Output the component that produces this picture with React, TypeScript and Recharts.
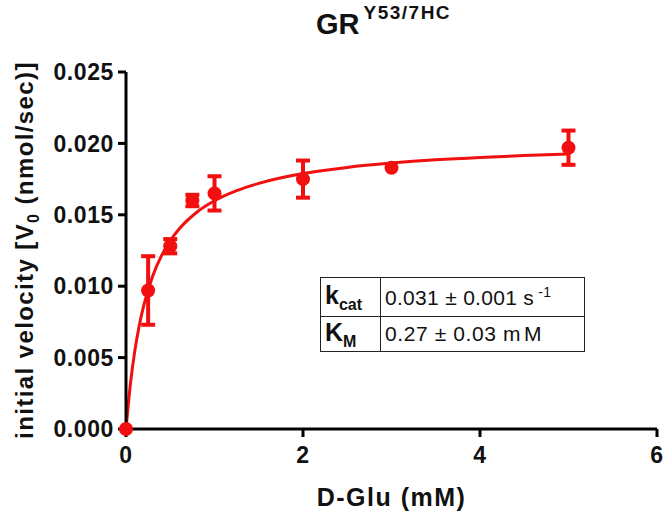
import React from "react";
import {
  ComposedChart,
  Line,
  Scatter,
  ErrorBar,
  XAxis,
  YAxis,
  Customized,
} from "recharts";

// measured substrate concentrations (mM) and velocities
const conc = [0, 0.25, 0.5, 0.75, 1, 2, 3, 5];
const velocity = [0, 0.0097, 0.0128, 0.016, 0.0165, 0.0175, 0.0183, 0.0197];
const velocityErr = [0, 0.0024, 0.0005, 0.0004, 0.0012, 0.0013, 0, 0.0012];

// fitted curve
const fitX = [0, 0.05, 0.1, 0.15, 0.2, 0.3, 0.4, 0.5, 0.6, 0.8, 1, 1.25, 1.5, 2, 2.5, 3, 3.5, 4, 4.5, 5];
const fitY = [
  0, 0.00317, 0.00549, 0.00725, 0.00864, 0.01068, 0.01212, 0.01318, 0.014, 0.01518,
  0.01598, 0.01669, 0.0172, 0.01789, 0.01832, 0.01862, 0.01885, 0.01902, 0.01915, 0.01926,
];

const xTicks = [0, 2, 4, 6];
const yTicks = [0, 0.005, 0.01, 0.015, 0.02, 0.025];

const points = conc.map((x, i) => ({ x, y: velocity[i], err: velocityErr[i] }));
const fit = fitX.map((x, i) => ({ x, fit: fitY[i] }));

const RED = "#f20f0f";
const FONT = "'Liberation Sans', Arial, sans-serif";
const tickStyle = { fill: "#111", fontSize: 23, fontWeight: "bold", fontFamily: FONT, letterSpacing: 0.6 };

const Dot = (props: any) => <circle cx={props.cx} cy={props.cy} r={7} fill={RED} />;

const Title = () => (
  <text x={316} y={34} fontFamily={FONT} fontWeight="bold" fill="#111">
    <tspan fontSize={29}>GR</tspan>
    <tspan fontSize={19} dy={-15} dx={4} letterSpacing={1.5}>Y53/7HC</tspan>
  </text>
);

const YLabel = () => (
  <text
    transform="translate(33,250) rotate(-90)"
    textAnchor="middle"
    fontFamily={FONT}
    fontWeight="bold"
    fontSize={24}
    letterSpacing={1.4}
    fill="#111"
  >
    initial velocity [V
    <tspan fontSize={16} dy={6}>0</tspan>
    <tspan dy={-6}> (nmol/sec)]</tspan>
  </text>
);

export default function App() {
  return (
    <div style={{ position: "absolute", left: 0, top: 0, width: 666, height: 516, background: "#fff" }}>
      <ComposedChart
        width={666}
        height={516}
        margin={{ top: 72, right: 9, bottom: 0, left: 0 }}
      >
        <XAxis
          type="number"
          dataKey="x"
          domain={[0, 6]}
          ticks={xTicks}
          height={87}
          axisLine={{ stroke: "#000", strokeWidth: 3 }}
          tickLine={{ stroke: "#000", strokeWidth: 3 }}
          tickSize={8}
          tickMargin={10}
          tick={tickStyle}
          label={{
            value: "D-Glu (mM)",
            position: "insideBottom",
            offset: 10,
            fill: "#111",
            fontSize: 25,
            fontWeight: "bold",
            fontFamily: FONT,
            letterSpacing: 1.5,
          }}
        />
        <YAxis
          type="number"
          domain={[0, 0.025]}
          ticks={yTicks}
          width={126}
          tickFormatter={(v: number) => v.toFixed(3)}
          axisLine={{ stroke: "#000", strokeWidth: 3 }}
          tickLine={{ stroke: "#000", strokeWidth: 3 }}
          tickSize={8}
          tickMargin={4}
          tick={tickStyle}
        />
        <Line
          data={fit}
          dataKey="fit"
          type="monotone"
          stroke={RED}
          strokeWidth={3}
          dot={false}
          isAnimationActive={false}
        />
        <Scatter data={points} dataKey="y" shape={Dot} isAnimationActive={false}>
          <ErrorBar dataKey="err" direction="y" width={7} stroke={RED} strokeWidth={4} />
        </Scatter>
        <Customized component={Title} />
        <Customized component={YLabel} />
      </ComposedChart>
      <div
        style={{
          position: "absolute",
          left: 320,
          top: 277,
          width: 265,
          height: 75,
          border: "1.5px solid #222",
          boxSizing: "border-box",
          fontFamily: FONT,
          color: "#111",
          fontSize: 21,
        }}
      >
        <div style={{ position: "absolute", left: 59, top: 0, bottom: 0, borderLeft: "1.5px solid #222" }} />
        <div style={{ position: "absolute", left: 0, right: 0, top: 38, borderTop: "1.5px solid #222" }} />
        <div style={{ position: "absolute", left: 4, top: 3, fontWeight: "bold", fontSize: 25 }}>
          k<sub style={{ fontSize: 16 }}>cat</sub>
        </div>
        <div style={{ position: "absolute", left: 64, top: 6, letterSpacing: 0.3 }}>
          0.031 ± 0.001 s<sup style={{ fontSize: 14 }}> -1</sup>
        </div>
        <div style={{ position: "absolute", left: 4, top: 40, fontWeight: "bold", fontSize: 25 }}>
          K<sub style={{ fontSize: 16 }}>M</sub>
        </div>
        <div style={{ position: "absolute", left: 64, top: 44, letterSpacing: 0.6 }}>
          0.27 ± 0.03 m<span style={{ marginLeft: 3 }}>M</span>
        </div>
      </div>
    </div>
  );
}
